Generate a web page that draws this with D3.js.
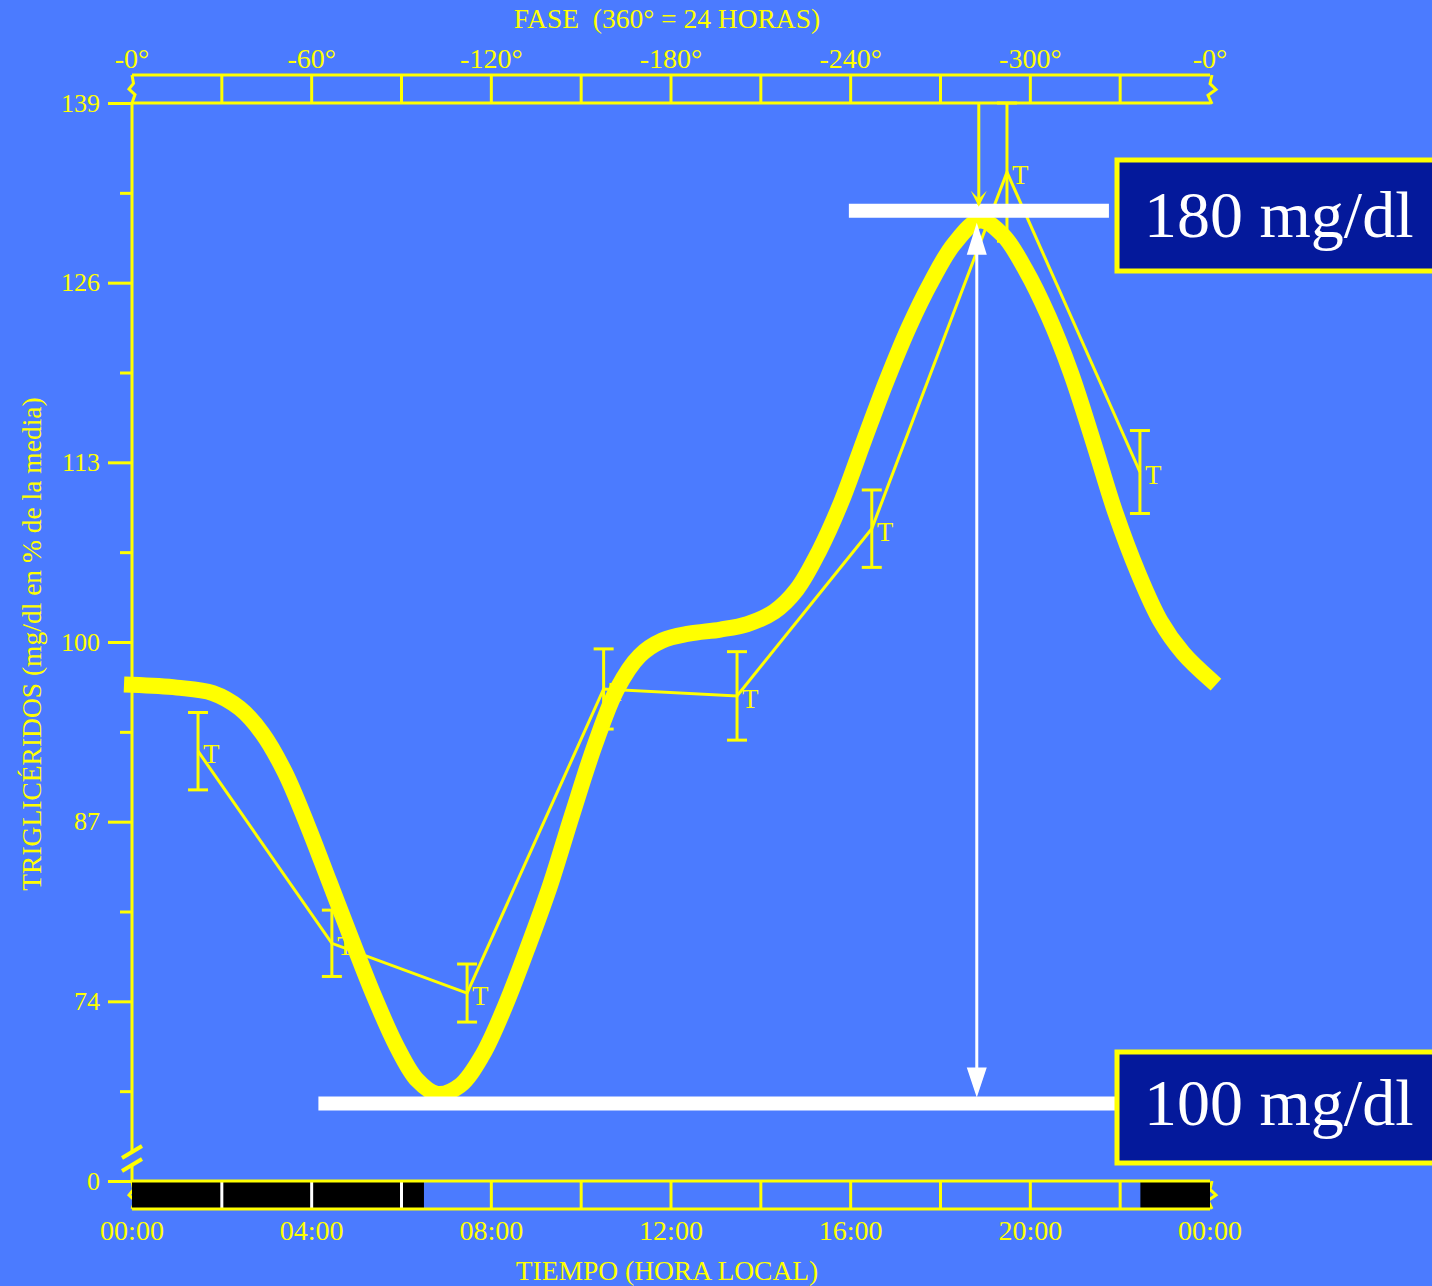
<!DOCTYPE html>
<html>
<head>
<meta charset="utf-8">
<script src="https://cdnjs.cloudflare.com/ajax/libs/d3/7.8.5/d3.min.js"></script>
<style>
body { margin: 0; background: #4b7bff; }
text { font-family: "Liberation Serif", "Times New Roman", serif; }
</style>
</head>
<body>
<div id="chart"></div>
<script>
// fitted curve (hora, % de la media)
var curveHours = [0, 1.0, 1.8, 2.4, 2.9, 3.4, 3.9, 4.4, 4.9, 5.4, 5.9, 6.35, 6.8, 7.3, 7.8, 8.3, 8.8, 9.3, 9.8, 10.3, 10.8, 11.3, 11.8, 12.4, 13.1, 13.7, 14.3, 14.8, 15.3, 15.8, 16.3, 16.8, 17.3, 17.8, 18.3, 18.88, 19.4, 19.9, 20.4, 20.9, 21.4, 21.9, 22.4, 22.9, 23.4, 24];
var curveValues = [96.9, 96.7, 96.3, 95.2, 93.4, 90.6, 86.8, 82.6, 78.4, 74.3, 70.7, 68.3, 67.3, 67.9, 70.1, 73.6, 77.8, 82.3, 87.5, 92.5, 96.6, 99.0, 100.1, 100.6, 100.9, 101.3, 102.2, 103.8, 106.6, 110.2, 114.6, 118.9, 122.8, 126.1, 128.8, 130.5, 129.4, 126.9, 123.6, 119.5, 114.5, 109.3, 105.0, 101.5, 99.2, 97.3];

// medias observadas +/- error
var measHours = [1.47, 4.45, 7.46, 10.5, 13.47, 16.47, 19.48, 22.44];
var measMean = [92.1, 78.2, 74.6, 96.6, 96.1, 108.2, 134.0, 112.3];
var measErr = [2.8, 2.4, 2.1, 2.9, 3.2, 2.8, 5.0, 3.0];

var yTicks = [61, 74, 87, 100, 113, 126, 139];
var yTickLabels = ["0", "74", "87", "100", "113", "126", "139"];
var yMinor = [67.5, 80.5, 93.5, 106.5, 119.5, 132.5];
var bandTicks = [0, 2, 4, 6, 8, 10, 12, 14, 16, 18, 20, 22, 24];
var timeTicks = [0, 4, 8, 12, 16, 20, 24];
var timeLabels = ["00:00", "04:00", "08:00", "12:00", "16:00", "20:00", "00:00"];
var phaseLabels = ["-0°", "-60°", "-120°", "-180°", "-240°", "-300°", "-0°"];
var darkPeriods = [[0, 6.5], [22.45, 24]];
var peakHour = 18.83;
var refLevels = [131.2, 66.6];
var refLabels = ["180 mg/dl", "100 mg/dl"];

var W = 1432, H = 1286;
var yellow = "#ffff00";

var x = d3.scaleLinear().domain([0, 24]).range([132, 1210]);
var y = d3.scaleLinear().domain([61, 139]).range([1181, 103]);

var svg = d3.select("#chart").append("svg")
  .attr("width", W).attr("height", H);

svg.append("rect").attr("width", W).attr("height", H).attr("fill", "#4b7bff");

// ---- top phase band
var bandTop = 75, bandBot = 103;
svg.append("line").attr("x1", x(0)).attr("x2", x(24)).attr("y1", bandTop).attr("y2", bandTop)
  .attr("stroke", yellow).attr("stroke-width", 3);
svg.append("line").attr("x1", x(0)).attr("x2", x(24)).attr("y1", bandBot).attr("y2", bandBot)
  .attr("stroke", yellow).attr("stroke-width", 3);
svg.selectAll(".ptick").data(bandTicks.slice(1, -1)).enter().append("line")
  .attr("x1", x).attr("x2", x).attr("y1", bandTop).attr("y2", bandBot)
  .attr("stroke", yellow).attr("stroke-width", 3);

function squiggle(x0, y0, y1, s) {
  var h = y1 - y0;
  return "M" + x0 + "," + y0 + " L" + (x0 + 1 * s) + "," + (y0 + h * 0.3) +
    " L" + (x0 - 2 * s) + "," + (y0 + h * 0.5) + " L" + (x0 + 2 * s) + "," + (y0 + h * 0.7) +
    " L" + x0 + "," + y1;
}
[[x(0), bandTop, bandBot, 1.5], [x(24) + 2, bandTop, bandBot + 1, -2],
 [x(0), 1181, 1209, 1.5], [x(24) + 2, 1181, 1209, -2]].forEach(function (s) {
  svg.append("path").attr("d", squiggle(s[0], s[1], s[2], s[3]))
    .attr("fill", "none").attr("stroke", yellow).attr("stroke-width", 3);
});

svg.selectAll(".plab").data(timeTicks).enter().append("text")
  .attr("x", x).attr("y", 68).attr("text-anchor", "middle")
  .attr("font-size", 28).attr("fill", yellow)
  .text(function (d, i) { return phaseLabels[i]; });

svg.append("text").attr("x", 667).attr("y", 28).attr("text-anchor", "middle")
  .attr("font-size", 27.5).attr("fill", yellow).style("white-space", "pre")
  .text("FASE  (360° = 24 HORAS)");

// ---- bottom light/dark band
var lbTop = 1181, lbBot = 1209;
svg.selectAll(".dark").data(darkPeriods).enter().append("rect")
  .attr("x", function (d) { return x(d[0]); })
  .attr("width", function (d) { return x(d[1]) - x(d[0]); })
  .attr("y", lbTop).attr("height", lbBot - lbTop).attr("fill", "#000");
svg.selectAll(".ltick").data(bandTicks.slice(1, -1)).enter().append("line")
  .attr("x1", x).attr("x2", x).attr("y1", lbTop).attr("y2", lbBot)
  .attr("stroke", function (d) {
    return darkPeriods.some(function (p) { return d > p[0] && d < p[1]; }) ? "#fff" : yellow;
  })
  .attr("stroke-width", 3);
svg.append("line").attr("x1", x(0)).attr("x2", x(24)).attr("y1", lbTop).attr("y2", lbTop)
  .attr("stroke", yellow).attr("stroke-width", 3);
svg.append("line").attr("x1", x(0)).attr("x2", x(24)).attr("y1", lbBot).attr("y2", lbBot)
  .attr("stroke", yellow).attr("stroke-width", 3);

svg.selectAll(".tlab").data(timeTicks).enter().append("text")
  .attr("x", x).attr("y", 1240).attr("text-anchor", "middle")
  .attr("font-size", 28).attr("fill", yellow)
  .text(function (d, i) { return timeLabels[i]; });

svg.append("text").attr("x", 667).attr("y", 1280).attr("text-anchor", "middle")
  .attr("font-size", 27.5).attr("fill", yellow).text("TIEMPO (HORA LOCAL)");

// ---- y axis
var yAxis = d3.axisLeft(y).tickValues(yTicks).tickSize(24).tickPadding(8)
  .tickFormat(function (d, i) { return yTickLabels[i]; });
var ga = svg.append("g").attr("transform", "translate(" + x(0) + ",0)").call(yAxis);
ga.select(".domain").remove();
ga.selectAll(".tick line").attr("stroke", yellow).attr("stroke-width", 3);
ga.selectAll(".tick text").attr("fill", yellow).attr("font-size", 26)
  .attr("font-family", "Liberation Serif, Times New Roman, serif");

var gm = svg.append("g").attr("transform", "translate(" + x(0) + ",0)")
  .call(d3.axisLeft(y).tickValues(yMinor).tickSize(12).tickFormat(""));
gm.select(".domain").remove();
gm.selectAll(".tick line").attr("stroke", yellow).attr("stroke-width", 3);

svg.append("line").attr("x1", x(0)).attr("x2", x(0)).attr("y1", y(139)).attr("y2", 1151)
  .attr("stroke", yellow).attr("stroke-width", 3);
svg.append("line").attr("x1", x(0)).attr("x2", x(0)).attr("y1", 1165).attr("y2", y(61))
  .attr("stroke", yellow).attr("stroke-width", 3);
[1152, 1165].forEach(function (c) {
  svg.append("line").attr("x1", x(0) - 10).attr("x2", x(0) + 10)
    .attr("y1", c + 6).attr("y2", c - 6)
    .attr("stroke", yellow).attr("stroke-width", 4);
});

svg.append("text")
  .attr("transform", "translate(41,644) rotate(-90)")
  .attr("text-anchor", "middle").attr("font-size", 27.5).attr("fill", yellow)
  .text("TRIGLICÉRIDOS (mg/dl en % de la media)");

// ---- observed means (drawn under the fitted curve)
var meas = d3.zip(measHours, measMean, measErr);
svg.append("path")
  .attr("d", d3.line().x(function (d) { return x(d[0]); }).y(function (d) { return y(d[1]); })(meas))
  .attr("fill", "none").attr("stroke", yellow).attr("stroke-width", 3);
var eb = svg.selectAll(".err").data(meas).enter().append("g");
eb.append("line").attr("x1", function (d) { return x(d[0]); }).attr("x2", function (d) { return x(d[0]); })
  .attr("y1", function (d) { return y(d[1] + d[2]); }).attr("y2", function (d) { return y(d[1] - d[2]); })
  .attr("stroke", yellow).attr("stroke-width", 3);
[1, -1].forEach(function (sgn) {
  eb.append("line").attr("x1", function (d) { return x(d[0]) - 10; }).attr("x2", function (d) { return x(d[0]) + 10; })
    .attr("y1", function (d) { return y(d[1] + sgn * d[2]); }).attr("y2", function (d) { return y(d[1] + sgn * d[2]); })
    .attr("stroke", yellow).attr("stroke-width", 3);
});
eb.append("text").attr("x", function (d) { return x(d[0]) + 5; })
  .attr("y", function (d) { return y(d[1]) + 12; })
  .attr("font-size", 27).attr("fill", yellow).text("T");

// ---- fitted curve
var curveLine = d3.line()
  .x(function (d) { return x(d[0]); })
  .y(function (d) { return y(d[1]); })
  .curve(d3.curveCatmullRom.alpha(0.5));
svg.append("path")
  .attr("d", curveLine(d3.zip(curveHours, curveValues)))
  .attr("fill", "none").attr("stroke", yellow).attr("stroke-width", 16)
  .attr("stroke-linecap", "square");

// ---- reference lines
var refSpans = [[15.96, 21.75], [4.15, 21.9]];
refLevels.forEach(function (v, i) {
  svg.append("line").attr("x1", x(refSpans[i][0])).attr("x2", x(refSpans[i][1]))
    .attr("y1", y(v)).attr("y2", y(v))
    .attr("stroke", "#fff").attr("stroke-width", 14);
});

// ---- acrophase arrow from phase band
var ax = x(peakHour) + 1;
svg.append("line").attr("x1", ax).attr("x2", ax).attr("y1", bandBot).attr("y2", y(refLevels[0]) - 6)
  .attr("stroke", yellow).attr("stroke-width", 3);
svg.append("path")
  .attr("d", "M" + (ax - 8) + "," + (y(refLevels[0]) - 20) + " L" + ax + "," + (y(refLevels[0]) - 4) +
    " L" + (ax + 8) + "," + (y(refLevels[0]) - 20) + " L" + ax + "," + (y(refLevels[0]) - 12) + "Z")
  .attr("fill", yellow);

// ---- amplitude double arrow
var wx = x(peakHour) - 1;
var wTop = y(refLevels[0]) + 12, wBot = y(refLevels[1]) - 6;
svg.append("line").attr("x1", wx).attr("x2", wx).attr("y1", wTop + 20).attr("y2", wBot - 20)
  .attr("stroke", "#fff").attr("stroke-width", 3);
svg.append("path")
  .attr("d", "M" + wx + "," + wTop + " L" + (wx + 10) + "," + (wTop + 32) + " L" + (wx - 10) + "," + (wTop + 32) + "Z")
  .attr("fill", "#fff");
svg.append("path")
  .attr("d", "M" + wx + "," + wBot + " L" + (wx + 10) + "," + (wBot - 30) + " L" + (wx - 10) + "," + (wBot - 30) + "Z")
  .attr("fill", "#fff");

// ---- value boxes
var boxTops = [160, 1052];
var boxBase = [237, 1125];
refLabels.forEach(function (t, i) {
  svg.append("rect").attr("x", 1117).attr("y", boxTops[i]).attr("width", 330).attr("height", 111)
    .attr("fill", "#04199b").attr("stroke", yellow).attr("stroke-width", 5);
  svg.append("text").attr("x", 1144).attr("y", boxBase[i])
    .attr("font-size", 66).attr("fill", "#fff").text(t);
});
</script>
</body>
</html>
